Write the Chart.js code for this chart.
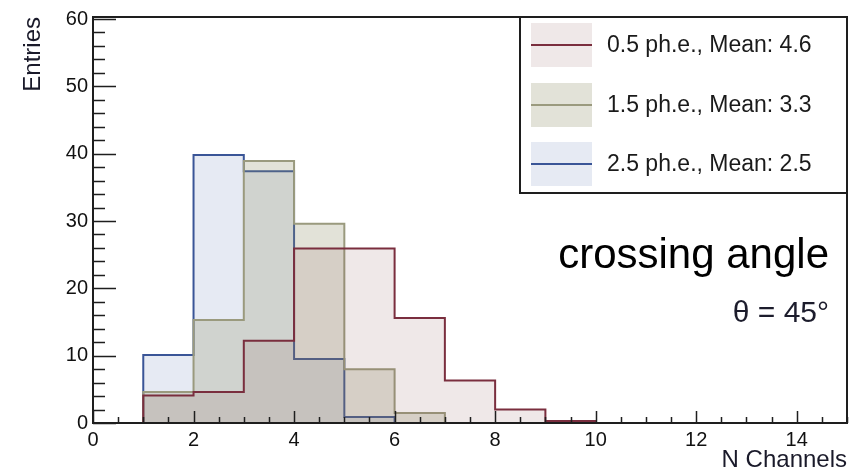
<!DOCTYPE html>
<html>
<head>
<meta charset="utf-8">
<script src="https://cdn.jsdelivr.net/npm/chart.js@4.4.0/dist/chart.umd.min.js"></script>
<style>
  body { margin: 0; background: #fff; }
  #wrap { width: 862px; height: 472px; }
</style>
</head>
<body>
<div id="wrap"><canvas id="chartCanais" width="862" height="472"></canvas></div>
<script>
// Bordas dos bins (N Channels) e conteúdo de cada histograma
const bordas = [1, 2, 3, 4, 5, 6, 7, 8, 9, 10];
const entradas05 = [4.1, 4.6, 12.2, 25.9, 25.9, 15.6, 6.3, 2.0, 0.3];
const entradas15 = [4.6, 15.3, 38.9, 29.6, 8.0, 1.5];
const entradas25 = [10.1, 39.8, 37.4, 9.5, 0.9];
const rotulos = ['0.5 ph.e., Mean: 4.6', '1.5 ph.e., Mean: 3.3', '2.5 ph.e., Mean: 2.5'];
const tituloX = 'N Channels';
const tituloY = 'Entries';
const anotacoes = ['crossing angle', 'θ = 45°'];

const fonte = "'Liberation Sans', Arial, sans-serif";

// contorno em degraus do histograma (valores em unidades do eixo)
function contorno(valores) {
    const pts = [{ x: bordas[0], y: 0 }];
    valores.forEach(function(v, i) {
        pts.push({ x: bordas[i], y: v });
        pts.push({ x: bordas[i + 1], y: v });
    });
    pts.push({ x: bordas[valores.length], y: 0 });
    return pts;
}

// moldura, marcas dos eixos, legenda e textos no estilo ROOT
const estiloRoot = {
    id: 'estiloRoot',
    afterDatasetsDraw(chart) {
        const { ctx, chartArea: a, scales: { x, y } } = chart;
        ctx.save();
        ctx.strokeStyle = '#1e1e1e';
        ctx.lineWidth = 1.5;
        ctx.beginPath();
        for (let v = 0; v <= 60; v += 2) {
            const py = Math.round(y.getPixelForValue(v)) + 0.5;
            const len = v % 10 === 0 ? 23 : 12;
            ctx.moveTo(a.left, py);
            ctx.lineTo(a.left + len, py);
        }
        for (let v = 0; v <= 15; v += 0.5) {
            const px = Math.round(x.getPixelForValue(v)) + 0.5;
            const len = v % 2 === 0 ? 12 : 6;
            ctx.moveTo(px, a.bottom);
            ctx.lineTo(px, a.bottom - len);
        }
        ctx.stroke();
        ctx.lineWidth = 2;
        ctx.strokeRect(a.left, a.top, a.right - a.left, a.bottom - a.top);

        // legenda
        const lx = a.right - 327, ly = a.top, lh = 176;
        ctx.fillStyle = '#fff';
        ctx.fillRect(lx, ly, a.right - lx, lh);
        ctx.strokeRect(lx, ly, a.right - lx, lh);
        const centros = [28, 88, 147];
        chart.data.datasets.forEach(function(ds, i) {
            const cy = ly + centros[i];
            ctx.fillStyle = ds.backgroundColor;
            ctx.fillRect(lx + 11, cy - 22, 61, 44);
            ctx.strokeStyle = ds.borderColor;
            ctx.lineWidth = 2;
            ctx.beginPath();
            ctx.moveTo(lx + 11, cy);
            ctx.lineTo(lx + 72, cy);
            ctx.stroke();
            ctx.fillStyle = '#1a1a1a';
            ctx.font = '23px ' + fonte;
            ctx.textBaseline = 'middle';
            ctx.textAlign = 'left';
            ctx.fillText(ds.label, lx + 87, cy + 1);
        });

        // anotação
        ctx.fillStyle = '#000';
        ctx.textAlign = 'right';
        ctx.textBaseline = 'alphabetic';
        ctx.font = '42px ' + fonte;
        ctx.fillText(anotacoes[0], a.right - 18, 268);
        ctx.fillStyle = '#1c1c2c';
        ctx.font = '30px ' + fonte;
        ctx.fillText(anotacoes[1], a.right - 18, 322);
        ctx.restore();
    }
};

const ctx = document.getElementById('chartCanais').getContext('2d');
const chart = new Chart(ctx, {
    type: 'line',
    data: {
        datasets: [
            {
                label: rotulos[0],
                data: contorno(entradas05),
                borderColor: '#7a2e3e',
                backgroundColor: 'rgba(130,80,80,0.13)',
                borderWidth: 2,
                fill: 'origin'
            },
            {
                label: rotulos[1],
                data: contorno(entradas15),
                borderColor: '#9a9a7e',
                backgroundColor: 'rgba(140,140,100,0.25)',
                borderWidth: 2,
                fill: 'origin'
            },
            {
                label: rotulos[2],
                data: contorno(entradas25),
                borderColor: '#3a5597',
                backgroundColor: 'rgba(60,90,160,0.13)',
                borderWidth: 2,
                fill: 'origin'
            }
        ]
    },
    options: {
        responsive: false,
        animation: false,
        layout: { padding: { top: 13, right: 15, left: 0, bottom: 0 } },
        elements: { point: { radius: 0 }, line: { tension: 0 } },
        plugins: {
            legend: { display: false },
            tooltip: { enabled: false }
        },
        scales: {
            x: {
                type: 'linear',
                min: 0,
                max: 15,
                grid: { display: false, drawTicks: false },
                border: { display: false },
                ticks: {
                    stepSize: 2,
                    includeBounds: false,
                    maxRotation: 0,
                    padding: 5,
                    color: '#111',
                    font: { family: fonte, size: 20 }
                },
                title: {
                    display: true,
                    text: tituloX,
                    align: 'end',
                    padding: 0,
                    color: '#1a1a2a',
                    font: { family: fonte, size: 24, lineHeight: 1.0 }
                },
                afterFit(s) { s.height = 49; }
            },
            y: {
                type: 'linear',
                min: 0,
                max: 60.3,
                grid: { display: false, drawTicks: false },
                border: { display: false },
                ticks: {
                    stepSize: 10,
                    includeBounds: false,
                    padding: 5,
                    color: '#111',
                    font: { family: fonte, size: 20 }
                },
                title: {
                    display: true,
                    text: tituloY,
                    align: 'end',
                    padding: { top: 19, bottom: 0 },
                    color: '#1a1a2a',
                    font: { family: fonte, size: 24 }
                },
                afterFit(s) { s.width = 93; }
            }
        }
    },
    plugins: [estiloRoot]
});
</script>
</body>
</html>
